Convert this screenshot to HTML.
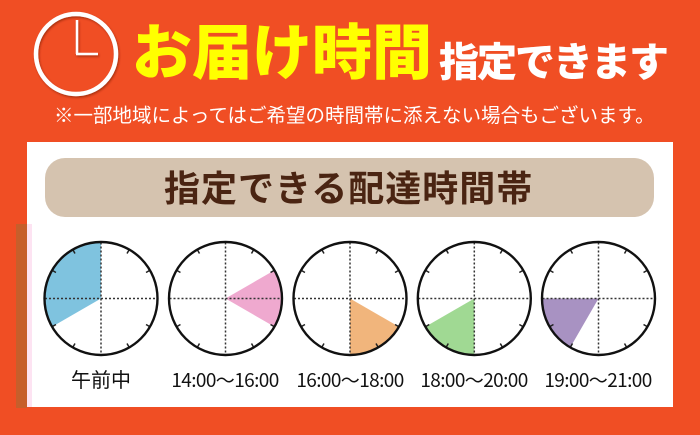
<!DOCTYPE html>
<html><head><meta charset="utf-8">
<style>
html,body{margin:0;padding:0;}
body{width:700px;height:435px;overflow:hidden;background:#f04e24;position:relative;font-family:"Liberation Sans","Noto Sans CJK JP",sans-serif;}
.abs{position:absolute;white-space:nowrap;}
.t1{left:132px;top:19px;font-size:60px;line-height:60px;font-weight:900;color:#ffff00;font-family:"Noto Sans CJK JP",sans-serif;}
.t2{left:439px;top:39px;font-size:40px;line-height:40px;font-weight:900;color:#fff;letter-spacing:-2px;font-family:"Noto Sans CJK JP",sans-serif;}
.t3{left:54px;top:104px;font-size:19.5px;line-height:20px;color:#fff;font-family:"Noto Sans CJK JP",sans-serif;}
.panel{left:27px;top:142px;width:646px;height:265px;background:#fff;}
.strip{left:16px;top:224px;width:11px;height:184px;background:#c65e2b;}
.pstrip{left:27px;top:224px;width:5px;height:183px;background:#fde3f2;}
.pill{left:45px;top:158px;width:609px;height:59px;background:#d5c3af;border-radius:20px;}
.pt{left:164px;top:168px;font-size:36px;line-height:36px;font-weight:700;color:#4a2412;letter-spacing:1px;font-family:"Noto Sans CJK JP",sans-serif;}
</style></head>
<body>
<svg class="abs" style="left:0;top:0" width="700" height="435" viewBox="0 0 700 435">
  <defs>
    <filter id="sh" x="-20%" y="-20%" width="140%" height="140%">
      <feDropShadow dx="1" dy="1.5" stdDeviation="1" flood-color="#7a1a00" flood-opacity="0.6"/>
    </filter>
  </defs>
  <g filter="url(#sh)" stroke="#fff" fill="none">
    <circle cx="76" cy="54" r="40" stroke-width="4.5"/>
    <line x1="77" y1="54" x2="77" y2="20" stroke-width="2.5"/>
    <line x1="76" y1="54" x2="98" y2="54" stroke-width="2.5"/>
  </g>
</svg>
<div class="abs t1">お届け時間</div>
<div class="abs t2">指定できます</div>
<div class="abs t3">※一部地域によってはご希望の時間帯に添えない場合もございます。</div>
<div class="abs strip"></div>
<div class="abs panel"></div>
<div class="abs pstrip"></div>
<div class="abs pill"></div>
<div class="abs pt">指定できる配達時間帯</div>
<svg class="abs" style="left:0;top:0" width="700" height="435" viewBox="0 0 700 435">
  <defs>
    <g id="ticks" stroke="#222" stroke-width="1.5">
      <line x1="0" y1="-56" x2="0" y2="-52" transform="rotate(30)"/>
      <line x1="0" y1="-56" x2="0" y2="-52" transform="rotate(60)"/>
      <line x1="0" y1="-56" x2="0" y2="-52" transform="rotate(120)"/>
      <line x1="0" y1="-56" x2="0" y2="-52" transform="rotate(150)"/>
      <line x1="0" y1="-56" x2="0" y2="-52" transform="rotate(210)"/>
      <line x1="0" y1="-56" x2="0" y2="-52" transform="rotate(240)"/>
      <line x1="0" y1="-56" x2="0" y2="-52" transform="rotate(300)"/>
      <line x1="0" y1="-56" x2="0" y2="-52" transform="rotate(330)"/>
    </g>
    <g id="face">
      <line x1="-56" y1="0" x2="56" y2="0" stroke="#333" stroke-width="1.5" stroke-dasharray="2,2"/>
      <line x1="0" y1="-56" x2="0" y2="56" stroke="#333" stroke-width="1.5" stroke-dasharray="2,2"/>
      <use href="#ticks"/>
      <circle cx="0" cy="0" r="56.5" fill="none" stroke="#111" stroke-width="2.4"/>
    </g>
  </defs>
  <g transform="translate(101,298.5)">
    <path d="M0 0 L-48.5 28 A56 56 0 0 1 0 -56 Z" fill="#7fc3df"/>
    <use href="#face"/>
  </g>
  <g transform="translate(225.5,298.5)">
    <path d="M0 0 L48.5 -28 A56 56 0 0 1 48.5 28 Z" fill="#efa9cf"/>
    <use href="#face"/>
  </g>
  <g transform="translate(350,298.5)">
    <path d="M0 0 L48.5 28 A56 56 0 0 1 0 56 Z" fill="#f1b57c"/>
    <use href="#face"/>
  </g>
  <g transform="translate(474.3,298.5)">
    <path d="M0 0 L0 56 A56 56 0 0 1 -48.5 28 Z" fill="#a0d993"/>
    <use href="#face"/>
  </g>
  <g transform="translate(598.5,298.5)">
    <path d="M0 0 L-28 48.5 A56 56 0 0 1 -56 0 Z" fill="#a892c2"/>
    <use href="#face"/>
  </g>
  <g font-family="Noto Sans CJK JP, sans-serif" font-size="19" fill="#111" text-anchor="middle">
    <text x="101" y="387" font-size="20">午前中</text>
    <text x="225" y="387" letter-spacing="-0.6">14:00〜16:00</text>
    <text x="350" y="387" letter-spacing="-0.6">16:00〜18:00</text>
    <text x="474" y="387" letter-spacing="-0.6">18:00〜20:00</text>
    <text x="598" y="387" letter-spacing="-0.6">19:00〜21:00</text>
  </g>
</svg>
</body></html>
